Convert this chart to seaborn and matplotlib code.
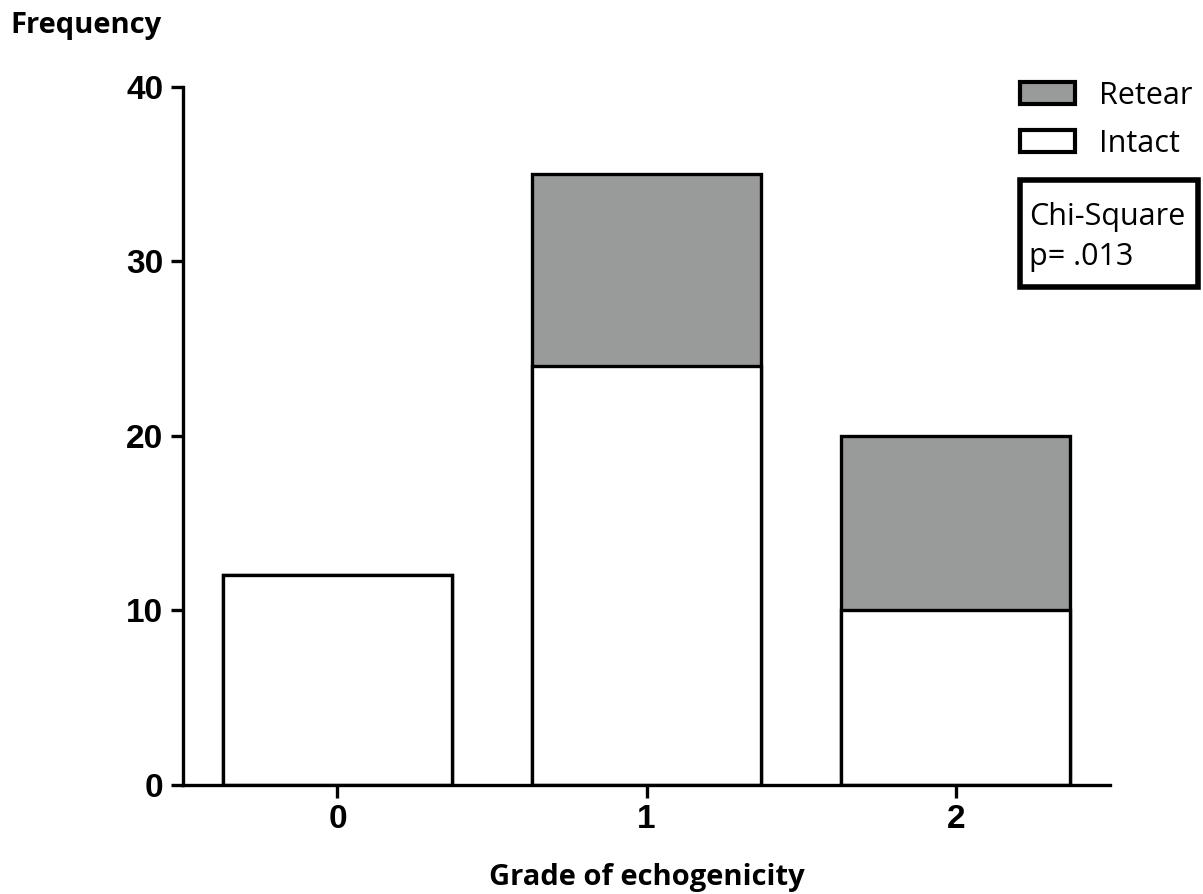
import pandas as pd
import matplotlib.pyplot as plt
import seaborn as sns
from matplotlib.patches import Patch, Rectangle

# Values
grades = ['0', '1', '2']
intact = [12, 24, 10]
retear = [0, 11, 10]
y_ticks = [0, 10, 20, 30, 40]

df = pd.DataFrame({'Grade': grades, 'Intact': intact, 'Retear': retear})
df['Total'] = df['Intact'] + df['Retear']

gray = '#999b9a'

sns.set_style('ticks', {'axes.edgecolor': 'black', 'text.color': 'black',
                        'xtick.color': 'black', 'ytick.color': 'black'})
plt.rcParams['font.family'] = ['Liberation Sans', 'DejaVu Sans']

fig = plt.figure(figsize=(12.03, 8.94), dpi=100)
ax = fig.add_axes([0.152, 0.122, 0.771, 0.781])

# stacked: total in gray, intact in white over it
sns.barplot(x='Grade', y='Total', data=df, color=gray, width=0.74,
            edgecolor='black', linewidth=2.4, saturation=1, ax=ax)
sns.barplot(x='Grade', y='Intact', data=df, color='white', width=0.74,
            edgecolor='black', linewidth=2.4, saturation=1, ax=ax)

ax.set_xlim(-0.5, 2.5)
ax.set_ylim(0, 40)
ax.set_yticks(y_ticks)
ax.set_xlabel('')
ax.set_ylabel('')
sns.despine(ax=ax)
for s in ['left', 'bottom']:
    ax.spines[s].set_linewidth(2.4)
ax.tick_params(axis='both', width=2.4, length=9, labelsize=24, pad=5,
               colors='black')
for lab in ax.get_xticklabels() + ax.get_yticklabels():
    lab.set_fontweight('bold')

fig.text(10 / 1203, 1 - 26 / 894, 'Frequency', fontsize=21, fontweight='bold',
         family='Open Sans', ha='left', va='center', color='black')
fig.text(647 / 1203, 1 - 877 / 894, 'Grade of echogenicity', fontsize=21,
         fontweight='bold', family='Open Sans', ha='center', va='center',
         color='black')

handles = [Patch(facecolor=gray, edgecolor='black', linewidth=3, label='Retear'),
           Patch(facecolor='white', edgecolor='black', linewidth=3, label='Intact')]
fig.legend(handles=handles, loc='upper left', bbox_to_anchor=(992 / 1203, 1 - 53 / 894),
           frameon=False, prop={'family': 'Open Sans', 'size': 22},
           handlelength=1.8, handleheight=0.72, labelspacing=0.6, handletextpad=0.8,
           labelcolor='black')

fig.patches.append(Rectangle((1020 / 1203, 1 - 287 / 894), 178 / 1203, 107 / 894,
                             transform=fig.transFigure, fill=False,
                             edgecolor='black', linewidth=4))
fig.text(1029 / 1203, 1 - 237 / 894, 'Chi-Square\np= .013', fontsize=22,
         family='Open Sans', ha='left', va='center', linespacing=1.4,
         color='black')

plt.savefig('out.png', dpi=100)
